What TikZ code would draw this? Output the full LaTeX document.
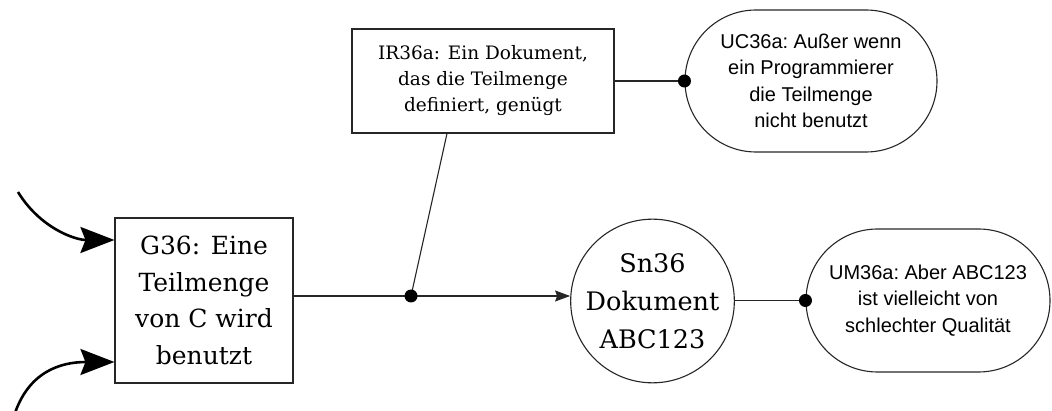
\documentclass[tikz,border=0pt]{standalone}
\usepackage{fontspec}
\setmainfont{DejaVu Serif}
\newfontfamily\sansf{Liberation Sans}
\usetikzlibrary{arrows.meta,shapes.misc}
\begin{document}
\begin{tikzpicture}[x=1pt,y=-1pt,
  box/.style={draw=black!85, line width=1.1pt, inner sep=0pt, align=center, text=black},
  serifbig/.style={font=\fontsize{25}{36.5}\selectfont},
  serifsmall/.style={font=\fontsize{18.5}{26}\selectfont},
  sansbox/.style={font=\sansf\fontsize{20}{26.5}\selectfont},
  link/.style={draw=black!85, line width=1.1pt},
  dot/.style={circle, fill=black, inner sep=0pt, minimum size=13pt},
  bigarrow/.style={line width=2.6pt, -{Stealth[length=34pt,width=26pt,inset=5pt]}},
  smallarrow/.style={-{Stealth[length=15pt,width=11pt,inset=2pt]}}]
\useasboundingbox (0,0) rectangle (1052,411);

\node[box, rectangle, serifbig, minimum width=178pt, minimum height=165pt] (G) at (204,300.5)
  {G36: Eine\\Teilmenge\\von C wird\\benutzt};
\node[box, rectangle, serifsmall, minimum width=262pt, minimum height=104pt] (IR) at (483,81)
  {IR36a: Ein Dokument,\\das die Teilmenge\\definiert, genügt};
\node[box, rounded rectangle, sansbox, minimum width=252pt, minimum height=142pt] (UC) at (811,81)
  {\frenchspacing UC36a: Außer wenn\\ein Programmierer\\die Teilmenge\\nicht benutzt};
\node[box, circle, font=\fontsize{25.5}{38}\selectfont, minimum size=161pt] (Sn) at (652.5,301)
  {Sn36\\Dokument\\ABC123};
\node[box, rounded rectangle, sansbox, minimum width=244pt, minimum height=143pt] (UM) at (928,300.5)
  {\frenchspacing UM36a: Aber ABC123\\ist vielleicht von\\schlechter Qualität};

\coordinate (j) at (411,296);
\coordinate (s1) at (18,192);
\coordinate (s2) at (14,416);

\draw[link] (j -| G.east) -- (j);
\draw[link, smallarrow] (j) -- (j -| Sn.west);
\draw[link] ([xshift=-36pt]IR.south) -- (j);
\node[dot] at (j) {};

\draw[link] (IR.east) -- (UC.west);
\node[dot] at (UC.west) {};

\draw[link] (Sn.east |- UM.west) -- (UM.west);
\node[dot] at (UM.west) {};

\draw[bigarrow] (s1) .. controls (40,228) and (75,240) .. ([yshift=60.5pt]G.west);
\draw[bigarrow] (s2) .. controls (28,372) and (60,362) .. ([yshift=-61.5pt]G.west);
\end{tikzpicture}
\end{document}
